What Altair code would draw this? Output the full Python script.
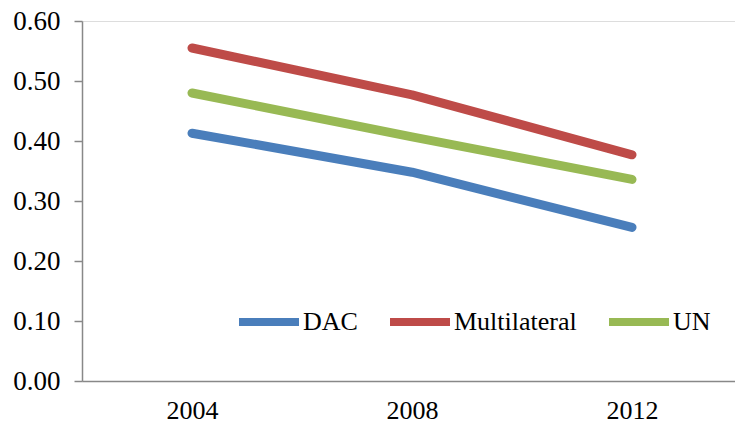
import altair as alt
import pandas as pd

years = [2004, 2008, 2012]
series_names = ["DAC", "Multilateral", "UN"]
dac = [0.413, 0.348, 0.256]
multilateral = [0.555, 0.477, 0.377]
un = [0.480, 0.407, 0.336]
colors = ["#4A7EBB", "#BE4B48", "#98B954"]

rows = []
for name, vals in zip(series_names, [dac, multilateral, un]):
    for y, v in zip(years, vals):
        rows.append({"year": y, "series": name, "value": v})
df = pd.DataFrame(rows)

FONT = "Liberation Serif"
W, H = 653, 360

lines = alt.Chart(df).mark_line(strokeWidth=9, strokeCap="round", strokeJoin="round").encode(
    x=alt.X("year:Q",
            scale=alt.Scale(domain=[2002, 2002 + W / 55.0], nice=False, zero=False),
            axis=alt.Axis(values=years, format="d", ticks=False, title=None,
                          labelFont=FONT, labelFontSize=26, labelColor="#000000",
                          labelPadding=16, domainColor="#888888", domainWidth=1.5,
                          grid=False, labelFlush=False)),
    y=alt.Y("value:Q",
            scale=alt.Scale(domain=[0, 0.6], nice=False),
            axis=alt.Axis(values=[0, 0.1, 0.2, 0.3, 0.4, 0.5, 0.6], format=".2f", title=None,
                          labelFont=FONT, labelFontSize=27, labelColor="#000000",
                          tickSize=8, tickColor="#888888", tickWidth=1.5,
                          labelPadding=14, domainColor="#888888", domainWidth=1.5,
                          grid=False)),
    color=alt.Color("series:N",
                    scale=alt.Scale(domain=series_names, range=colors),
                    legend=alt.Legend(orient="none", legendX=148, legendY=267,
                                      direction="horizontal", title=None,
                                      symbolType="stroke", symbolSize=3600,
                                      symbolStrokeWidth=8, symbolOffset=5,
                                      labelFont=FONT,
                                      labelFontSize=26, labelColor="#000000",
                                      labelOffset=0, columnPadding=16, padding=0)),
)

chart = lines.properties(
    width=W, height=H,
    autosize=alt.AutoSizeParams(type="none"),
    padding={"left": 82, "top": 21, "right": 0, "bottom": 46},
).configure_view(stroke=None).configure(background="white")

chart.save("out.html", embed_options={"renderer": "svg", "actions": False})
